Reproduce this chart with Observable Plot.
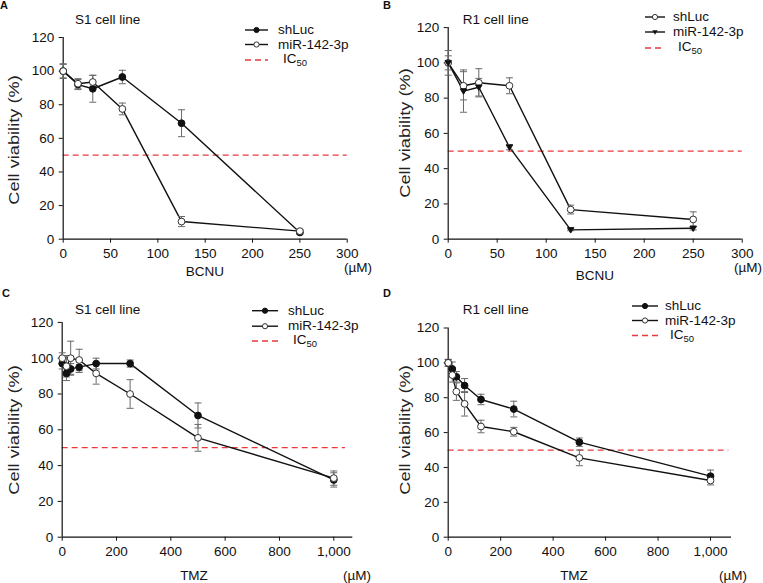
<!DOCTYPE html>
<html><head><meta charset="utf-8">
<script src="https://cdn.jsdelivr.net/npm/d3@7"></script>
<script src="https://cdn.jsdelivr.net/npm/@observablehq/plot@0.6"></script>
<style>
body{margin:0;background:#fff;font-family:"Liberation Sans",Arial,sans-serif;}
#root{position:relative;width:763px;height:583px;overflow:hidden;background:#fff;}
.abs{position:absolute;white-space:nowrap;color:#111;line-height:1;}
.plot{position:absolute;}
.sb{font-size:9.5px;position:relative;top:3px;}
</style></head><body><div id="root"></div>
<script>
// ---------- data ----------
const doseBCNU = [0, 15.6, 31.25, 62.5, 125, 250];
const doseTMZ = [0, 15.6, 31.25, 62.5, 125, 250, 500, 1000];
const seriesNames = ["shLuc", "miR-142-3p"];
const ic50 = 50;
const yTicks = [0, 20, 40, 60, 80, 100, 120];
const xTicksBCNU = [0, 50, 100, 150, 200, 250, 300];
const xTicksTMZ = [0, 200, 400, 600, 800, 1000];
const panelLetters = ["A", "B", "C", "D"];
const panelTitles = ["S1 cell line", "R1 cell line", "S1 cell line", "R1 cell line"];
const drugNames = ["BCNU", "BCNU", "TMZ", "TMZ"];

// Panel A (S1, BCNU)
const aShLuc = [100, 92, 89.5, 96.5, 69, 4];
const aShLucErr = [4.4, 3, 8, 4, 8, 1];
const aMiR = [100, 92.5, 93.5, 77.5, 10.5, 4.8];
const aMiRErr = [4, 3, 4, 3.5, 3, 1];
// Panel B (R1, BCNU)
const bShLuc = [100, 87, 88.7, 87, 16.8, 11.2];
const bShLucErr = [7, 8, 8, 4.5, 2.5, 4.3];
const bMiR = [100, 84, 86.2, 52.2, 5.3, 6.2];
const bMiRErr = [4, 12, 5, 1.5, 0.5, 1];
// Panel C (S1, TMZ)
const cShLuc = [97, 91.5, 94, 95, 97, 97, 68, 32];
const cShLucErr = [3, 4, 3, 3, 3, 2, 7, 4];
const cMiR = [100, 95.5, 100, 99, 91.5, 80, 55.5, 33];
const cMiRErr = [3, 6, 9.5, 6, 6, 8, 7.5, 4];
// Panel D (R1, TMZ)
const dShLuc = [100, 96.5, 92, 87, 79, 73.5, 54.5, 35];
const dShLucErr = [2, 4, 3, 4, 3, 4.5, 2.4, 3.5];
const dMiR = [100, 93, 83.5, 76.5, 63.5, 60.5, 45.5, 32.5];
const dMiRErr = [2, 4, 5, 7, 3.6, 2.5, 4.5, 2.5];

// ---------- helpers ----------
const capSymbol = {draw(ctx, size){const w = Math.sqrt(size/Math.PI); ctx.moveTo(-w,0); ctx.lineTo(w,0);}};
const downTri = {draw(ctx, size){const r = Math.sqrt(size/Math.PI); ctx.moveTo(-r,-r*0.7); ctx.lineTo(r,-r*0.7); ctx.lineTo(0,r*1.0); ctx.closePath();}};

function rows(dose, vals, errs){ return dose.map((x,i)=>({x, y: vals[i], e: errs[i]})); }

const markerStyles = {
  filled: {symbol: "circle", fill: "#111", stroke: "#111", r: 3.4},
  open: {symbol: "circle", fill: "#fff", stroke: "#333", r: 3.4},
  tri: {symbol: downTri, fill: "#111", stroke: "#111", r: 3.2}
};

const root = document.getElementById("root");
function addDiv(html, css){ const d = document.createElement("div"); d.className = "abs"; d.innerHTML = html; Object.assign(d.style, css); root.appendChild(d); return d; }

const panels = [
  {left:0, top:0, w:380, h:290, mt:37, mb:51.3, ml:62.7, mr:33.3, xMax:300, xTicks:xTicksBCNU, icMax:300,
   dose:doseBCNU, series:[{v:aShLuc,e:aShLucErr,m:"filled"},{v:aMiR,e:aMiRErr,m:"open"}],
   letter:[0,5], title:[75,20], ylab:[13.5,140], xlab:[205,272], unit:[358,268],
   leg:{x1:245,x2:268,tx:278,ys:[30,44.5,60]}},
  {left:380, top:0, w:383, h:290, mt:27.1, mb:51.3, ml:67.7, mr:21.3, xMax:300, xTicks:xTicksBCNU, icMax:300,
   dose:doseBCNU, series:[{v:bShLuc,e:bShLucErr,m:"open"},{v:bMiR,e:bMiRErr,m:"tri"}],
   letter:[383,5], title:[462.7,20], ylab:[405,133], xlab:[595,276], unit:[748,268],
   leg:{x1:645,x2:665,tx:673,ys:[17,32,48]}},
  {left:0, top:290, w:380, h:293, mt:31.9, mb:46.3, ml:61.7, mr:27.7, xMax:1070, xTicks:xTicksTMZ, icMax:1043,
   dose:doseTMZ, series:[{v:cShLuc,e:cShLucErr,m:"filled"},{v:cMiR,e:cMiRErr,m:"open"}],
   letter:[2,293], title:[75,310], ylab:[13.5,430], xlab:[194,576], unit:[357,576],
   leg:{x1:252,x2:278,tx:288,ys:[310.7,326.2,341]}},
  {left:380, top:290, w:383, h:293, mt:37.5, mb:46.3, ml:67.7, mr:32, xMax:1080, xTicks:xTicksTMZ, icMax:1070,
   dose:doseTMZ, series:[{v:dShLuc,e:dShLucErr,m:"filled"},{v:dMiR,e:dMiRErr,m:"open"}],
   letter:[383,293], title:[462.7,310], ylab:[405,430], xlab:[574,576], unit:[733,576],
   leg:{x1:632,x2:658,tx:665,ys:[306,320.5,335.5]}}
];

panels.forEach((p, pi) => {
  const marks = [
    Plot.ruleY([ic50], {x1: 0, x2: p.icMax, stroke: "#e8383d", strokeWidth: 1.3, strokeDasharray: "6,4"}),
    Plot.ruleX([0], {y1: 0, y2: 120, stroke: "#111", strokeWidth: 1.2}),
    Plot.ruleY([0], {x1: 0, x2: p.xMax, stroke: "#111", strokeWidth: 1.2}),
    Plot.axisY({ticks: yTicks, tickSize: 4, tickPadding: 5, label: null, fontSize: 13.5}),
    Plot.axisX({ticks: p.xTicks, tickSize: 4, tickPadding: 5, label: null, fontSize: 13.5, tickFormat: d3.format(",")})
  ];
  p.series.forEach(s => {
    const data = rows(p.dose, s.v, s.e);
    marks.push(Plot.line(data, {x: "x", y: "y", stroke: "#111", strokeWidth: 1.4}));
  });
  p.series.forEach(s => {
    const data = rows(p.dose, s.v, s.e);
    marks.push(Plot.ruleX(data, {x: "x", y1: d => d.y - d.e, y2: d => d.y + d.e, stroke: "#6a6a6a", strokeWidth: 1}));
    marks.push(Plot.dot(data, {x: "x", y: d => d.y + d.e, symbol: capSymbol, r: 3.5, stroke: "#6a6a6a", strokeWidth: 1, fill: "none"}));
    marks.push(Plot.dot(data, {x: "x", y: d => d.y - d.e, symbol: capSymbol, r: 3.5, stroke: "#6a6a6a", strokeWidth: 1, fill: "none"}));
  });
  p.series.forEach(s => {
    const data = rows(p.dose, s.v, s.e);
    const ms = markerStyles[s.m];
    marks.push(Plot.dot(data, {x: "x", y: "y", symbol: ms.symbol, r: ms.r, fill: ms.fill, stroke: ms.stroke, strokeWidth: 1}));
  });
  const chart = Plot.plot({
    width: p.w, height: p.h,
    marginTop: p.mt, marginBottom: p.mb, marginLeft: p.ml, marginRight: p.mr,
    x: {domain: [0, p.xMax]},
    y: {domain: [0, 120]},
    style: {fontFamily: "'Liberation Sans', Arial, sans-serif", fontSize: "13.5px", color: "#111", background: "transparent", overflow: "visible"},
    marks
  });
  chart.classList.add("plot");
  chart.style.left = p.left + "px";
  chart.style.top = p.top + "px";
  root.appendChild(chart);

  // texts
  addDiv(panelLetters[pi], {left: p.letter[0] + "px", top: p.letter[1] + "px", fontWeight: "bold", fontSize: "11px", transform: "translateY(-50%)"});
  addDiv(panelTitles[pi], {left: p.title[0] + "px", top: p.title[1] + "px", fontSize: "13.5px", transform: "translateY(-50%)"});
  addDiv("Cell viability (%)", {left: p.ylab[0] + "px", top: p.ylab[1] + "px", fontSize: "14px", color: "#222", transform: "translate(-50%,-50%) rotate(-90deg) scale(1.3,1)"});
  addDiv(drugNames[pi], {left: p.xlab[0] + "px", top: p.xlab[1] + "px", fontSize: "13.5px", transform: "translate(-50%,-50%)"});
  addDiv("(\u00b5M)", {left: p.unit[0] + "px", top: p.unit[1] + "px", fontSize: "13.5px", transform: "translate(-50%,-50%)"});

  // legend
  const L = p.leg;
  const lsvg = d3.create("svg").attr("width", 763).attr("height", 583)
    .style("position", "absolute").style("left", "0px").style("top", "0px").style("pointer-events", "none");
  p.series.forEach((s, si) => {
    const y = L.ys[si];
    lsvg.append("line").attr("x1", L.x1).attr("x2", L.x2).attr("y1", y).attr("y2", y).attr("stroke", "#111").attr("stroke-width", 1.4);
    const ms = markerStyles[s.m];
    const cx = (L.x1 + L.x2) / 2;
    if (ms.symbol === "circle") {
      lsvg.append("circle").attr("cx", cx).attr("cy", y).attr("r", 2.6).attr("fill", ms.fill).attr("stroke", ms.stroke);
    } else {
      lsvg.append("path").attr("d", d3.symbol(ms.symbol, Math.PI * 7)()).attr("transform", `translate(${cx},${y})`).attr("fill", ms.fill);
    }
    addDiv(seriesNames[si], {left: L.tx + "px", top: y + "px", fontSize: "13.5px", transform: "translateY(-50%)"});
  });
  const yi = L.ys[2];
  lsvg.append("line").attr("x1", L.x1).attr("x2", L.x2).attr("y1", yi).attr("y2", yi).attr("stroke", "#e8383d").attr("stroke-width", 1.3).attr("stroke-dasharray", "6,4");
  root.appendChild(lsvg.node());
  addDiv("IC<span class='sb'>50</span>", {left: (L.tx + 5) + "px", top: (yi - 1) + "px", fontSize: "13.5px", transform: "translateY(-50%)"});
});
</script></body></html>
